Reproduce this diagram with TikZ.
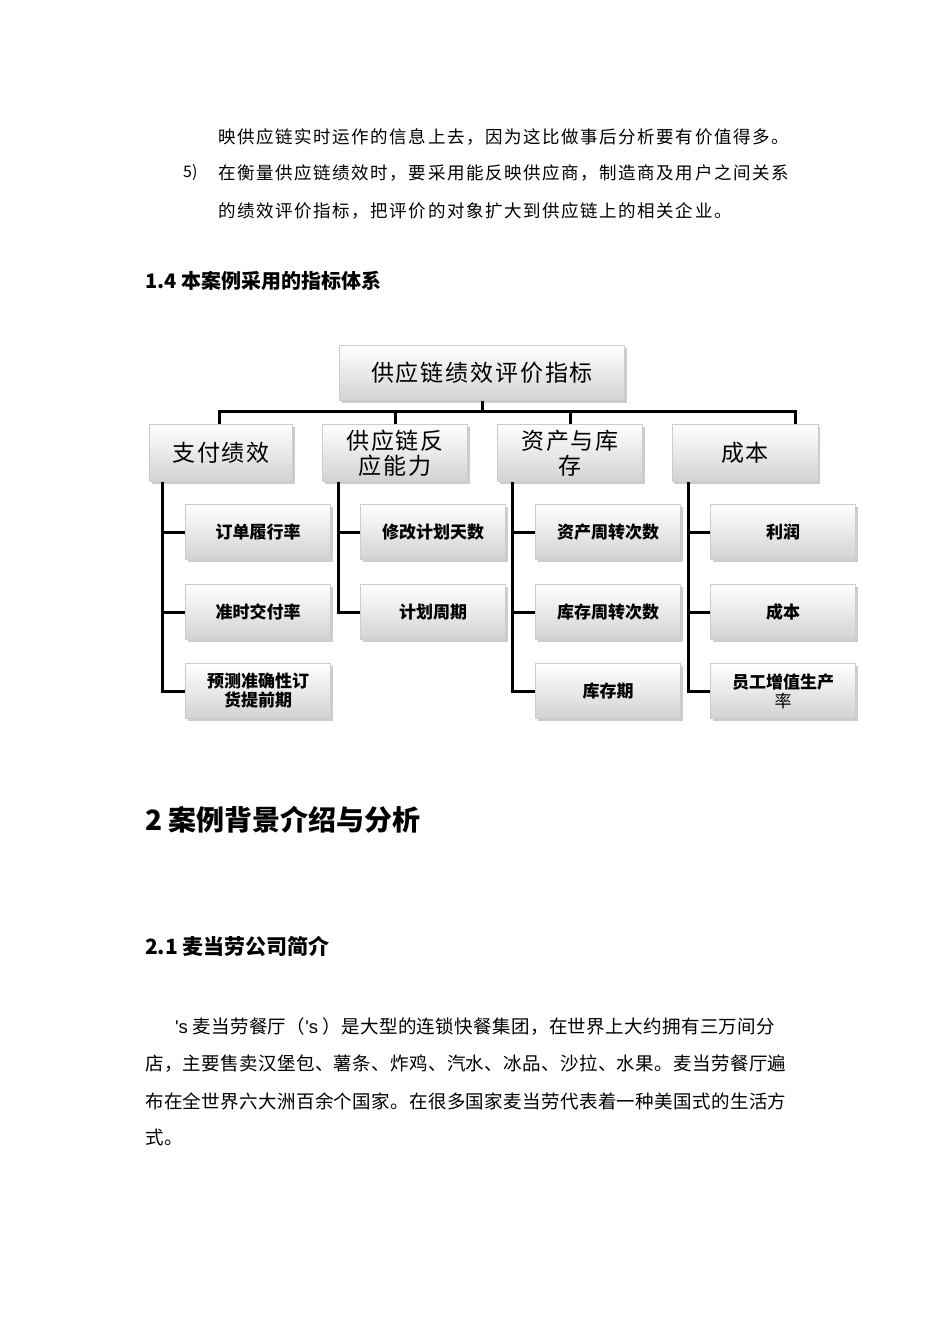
\documentclass[tikz,border=0pt]{standalone}
\usepackage{fontspec}
\setmainfont{Noto Sans CJK SC}
\newfontfamily\latinf{Liberation Sans}
\usetikzlibrary{shadows}
\begin{document}
\begin{tikzpicture}[x=1pt,y=-1pt,
  bx/.style={draw=gray!40,inner sep=0pt,align=center,top color=white,bottom color=gray!35,
    drop shadow={shadow xshift=2pt,shadow yshift=-2pt,opacity=.4},font=\fontsize{17}{19}\selectfont},
  kid/.style={bx,minimum width=145pt,minimum height=55pt,font=\fontsize{17}{19}\selectfont\bfseries},
  top/.style={bx,minimum height=57pt,font=\fontsize{23}{25}\selectfont\addfontfeature{LetterSpace=8}},
  ln/.style={line width=3pt},
  body/.style={anchor=west,inner sep=0pt,font=\fontsize{17.5}{19}\selectfont\addfontfeature{LetterSpace=9}},
  para/.style={anchor=west,inner sep=0pt,font=\fontsize{18.5}{20}\selectfont\addfontfeature{LetterSpace=2}}]
\useasboundingbox (0,0) rectangle (950,1344);
\fill[white] (0,0) rectangle (950,1344);
\node[body] (t1) at (218,137) {映供应链实时运作的信息上去，因为这比做事后分析要有价值得多。};
\node[anchor=west,inner sep=0pt,font=\fontsize{16}{18}\selectfont] (t2) at (183,173) {5)};
\node[body] (t3) at (218,173) {在衡量供应链绩效时，要采用能反映供应商，制造商及用户之间关系};
\node[body] (t4) at (218,211) {的绩效评价指标，把评价的对象扩大到供应链上的相关企业。};
\node[anchor=west,inner sep=0pt,font=\fontsize{20}{22}\selectfont\bfseries] (h1) at (145,281) {1.4 本案例采用的指标体系};
% tree
\node[top,minimum width=285pt,minimum height=55pt] (root) at (482,373) {供应链绩效评价指标};
\node[top,minimum width=143pt] (c1) at (221,453) {支付绩效};
\node[top,minimum width=145pt] (c2) at (395,453) {供应链反\\应能力};
\node[top,minimum width=145pt] (c3) at (570,453) {资产与库\\存};
\node[top,minimum width=146pt] (c4) at (745,453) {成本};
\coordinate (bar) at (482,411);
\draw[ln] (root.south) -- (bar);
\draw[ln] (c1.north-|219,0) |- (bar) -| (c4.north-|795,0);
\draw[ln] (c2.north) -- (c2.north|-bar);
\draw[ln] (c3.north) -- (c3.north|-bar);
\node[kid] (a1) at (258,532) {订单履行率};
\node[kid] (a2) at (258,612) {准时交付率};
\node[kid] (a3) at (258,691) {预测准确性订\\货提前期};
\node[kid] (b1) at (433,532) {修改计划天数};
\node[kid] (b2) at (433,612) {计划周期};
\node[kid] (d1) at (608,532) {资产周转次数};
\node[kid] (d2) at (608,612) {库存周转次数};
\node[kid] (d3) at (608,691) {库存期};
\node[kid] (e1) at (783,532) {利润};
\node[kid] (e2) at (783,612) {成本};
\node[kid] (e3) at (783,691) {员工增值生产\\{\mdseries 率}};
\draw[ln] (c1.south-|162,0) |- (a3.west);
\draw[ln] (162,532) -- (a1.west); \draw[ln] (162,612) -- (a2.west);
\draw[ln] (c2.south-|338,0) |- (b2.west); \draw[ln] (338,532) -- (b1.west);
\draw[ln] (c3.south-|512,0) |- (d3.west);
\draw[ln] (512,532) -- (d1.west); \draw[ln] (512,612) -- (d2.west);
\draw[ln] (c4.south-|688,0) |- (e3.west);
\draw[ln] (688,532) -- (e1.west); \draw[ln] (688,612) -- (e2.west);
% text below
\node[anchor=west,inner sep=0pt,font=\fontsize{28}{30}\selectfont\bfseries] (h2) at (145,820) {2 案例背景介绍与分析};
\node[anchor=west,inner sep=0pt,font=\fontsize{21}{23}\selectfont\bfseries] (h3) at (145,946) {2.1 麦当劳公司简介};
\node[para] (p1) at (175,1027) {{\latinf\symbol{39}s} 麦当劳餐厅（{\latinf\symbol{39}s} ）是大型的连锁快餐集团，在世界上大约拥有三万间分};
\node[para] (p2) at (145,1064) {店，主要售卖汉堡包、薯条、炸鸡、汽水、冰品、沙拉、水果。麦当劳餐厅遍};
\node[para] (p3) at (145,1101) {布在全世界六大洲百余个国家。在很多国家麦当劳代表着一种美国式的生活方};
\node[para] (p4) at (145,1138) {式。};
\end{tikzpicture}
\end{document}
